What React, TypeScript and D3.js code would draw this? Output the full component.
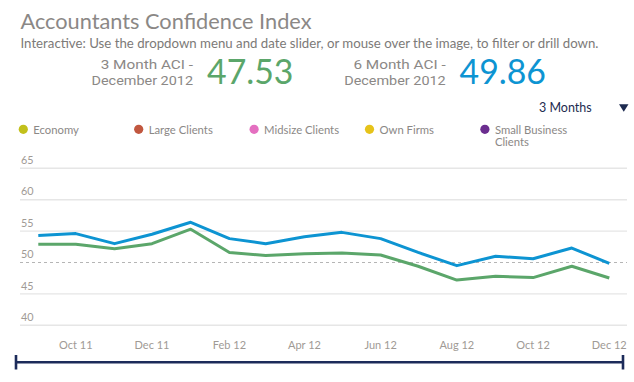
import React, { useEffect, useRef } from "react";
import * as d3 from "d3";

const months = [
  "2011-09", "2011-10", "2011-11", "2011-12", "2012-01", "2012-02", "2012-03", "2012-04",
  "2012-05", "2012-06", "2012-07", "2012-08", "2012-09", "2012-10", "2012-11", "2012-12",
];
const sixMonth = [54.3, 54.6, 53.0, 54.5, 56.4, 53.8, 53.0, 54.1, 54.8, 53.8, 51.6, 49.5, 51.0, 50.6, 52.3, 49.86];
const threeMonth = [52.9, 52.9, 52.2, 53.0, 55.3, 51.6, 51.1, 51.4, 51.5, 51.2, 49.4, 47.2, 47.8, 47.6, 49.4, 47.53];
const yTicks = [40, 45, 50, 55, 60, 65];
const xTickMonths = ["2011-10", "2011-12", "2012-02", "2012-04", "2012-06", "2012-08", "2012-10", "2012-12"];
const legendNames = ["Economy", "Large Clients", "Midsize Clients", "Own Firms", "Small Business|Clients"];
const legendColors = ["#c2c01b", "#c1573f", "#e46fc0", "#e6c31a", "#6b2d8f"];

const W = 634;
const H = 382;
const FONT = "Lato, 'Open Sans', sans-serif";

export default function App() {
  const ref = useRef<SVGSVGElement>(null);

  useEffect(() => {
    const svg = d3.select(ref.current);
    svg.selectAll("*").remove();
    const parse = d3.timeParse("%Y-%m");
    const dates = months.map((m) => parse(m) as Date);

    const x = d3.scaleTime().domain([dates[0], dates[dates.length - 1]]).range([38.3, 609.3]);
    const y = d3.scaleLinear().domain([40, 65]).range([325.3, 168.3]);

    // header
    svg.append("text").attr("x", 20.5).attr("y", 28.5).attr("font-family", FONT)
      .attr("font-size", 21).attr("fill", "#8b8886")
      .attr("textLength", 291).attr("lengthAdjust", "spacingAndGlyphs")
      .text("Accountants Confidence Index");
    svg.append("text").attr("x", 20.5).attr("y", 48.3).attr("font-family", FONT)
      .attr("font-size", 12.8).attr("fill", "#7c7a78")
      .attr("textLength", 578).attr("lengthAdjust", "spacingAndGlyphs")
      .text("Interactive: Use the dropdown menu and date slider, or mouse over the image, to filter or drill down.");

    const kpi = [
      { right: 193, num: "47.53", color: "#5ba66a", nx: 207 },
      { right: 445.7, num: "49.86", color: "#0d94d2", nx: 459.5 },
    ];
    kpi.forEach((k, i) => {
      const g = svg.append("g");
      g.append("text").attr("x", k.right - 92.3).attr("y", 68.8)
        .attr("font-family", "Roboto, sans-serif").attr("font-size", 13.6).attr("fill", "#8b8886")
        .attr("textLength", 92.3).attr("lengthAdjust", "spacingAndGlyphs")
        .text(`${i === 0 ? 3 : 6} Month ACI -`);
      g.append("text").attr("x", k.right - 101.5).attr("y", 84.8)
        .attr("font-family", "Roboto, sans-serif").attr("font-size", 13.6).attr("fill", "#8b8886")
        .attr("textLength", 101.5).attr("lengthAdjust", "spacingAndGlyphs")
        .text("December 2012");
      g.append("text").attr("x", k.nx).attr("y", 84).attr("font-family", FONT)
        .attr("font-size", 35).attr("fill", k.color)
        .attr("textLength", 86.5).attr("lengthAdjust", "spacingAndGlyphs").text(k.num);
    });

    // dropdown
    svg.append("text").attr("x", 539).attr("y", 111.7).attr("font-family", FONT)
      .attr("font-size", 12.5).attr("fill", "#1d2b50").text("3 Months");
    svg.append("path").attr("d", "M619,104.3L628.5,104.3L623.75,111.7Z").attr("fill", "#1d2b50");

    // legend
    legendNames.forEach((name, i) => {
      const cx = 23.3 + i * 115.4;
      svg.append("circle").attr("cx", cx).attr("cy", 129.3).attr("r", 4.6).attr("fill", legendColors[i]);
      const lines = name.split("|");
      lines.forEach((ln, j) => {
        svg.append("text").attr("x", cx + 10).attr("y", 133.5 + j * 12.3).attr("font-family", FONT)
          .attr("font-size", 11.3).attr("fill", "#8b8886").text(ln);
      });
    });

    // grid
    const grid = svg.append("g");
    yTicks.forEach((t) => {
      if (t !== 50) {
        grid.append("line").attr("x1", 20).attr("x2", 627).attr("y1", y(t)).attr("y2", y(t))
          .attr("stroke", "#e6e6e6").attr("stroke-width", 1.4);
      }
      grid.append("text").attr("x", 21).attr("y", y(t) - 4.3).attr("font-family", FONT)
        .attr("font-size", 10.8).attr("fill", "#a09a95").text(t);
    });
    grid.append("line").attr("x1", 20).attr("x2", 627).attr("y1", y(50)).attr("y2", y(50))
      .attr("stroke", "#b5b5b5").attr("stroke-width", 1.2).attr("stroke-dasharray", "3,3");

    // x axis labels
    const fmt = d3.timeFormat("%b %y");
    xTickMonths.forEach((m) => {
      const d = parse(m) as Date;
      svg.append("text").attr("x", x(d)).attr("y", 349).attr("text-anchor", "middle")
        .attr("font-family", FONT).attr("font-size", 11).attr("fill", "#a09a95").text(fmt(d));
    });

    // lines
    const line = d3.line<number>().x((_, i) => x(dates[i])).y((v) => y(v));
    svg.append("path").datum(threeMonth).attr("d", line).attr("fill", "none")
      .attr("stroke", "#5ba66a").attr("stroke-width", 3).attr("stroke-linejoin", "round");
    svg.append("path").datum(sixMonth).attr("d", line).attr("fill", "none")
      .attr("stroke", "#0d94d2").attr("stroke-width", 3).attr("stroke-linejoin", "round");

    // slider
    svg.append("line").attr("x1", 15).attr("x2", 624).attr("y1", 362.3).attr("y2", 362.3)
      .attr("stroke", "#1c2b5a").attr("stroke-width", 2.6);
    [16, 623].forEach((sx) => {
      svg.append("line").attr("x1", sx).attr("x2", sx).attr("y1", 355).attr("y2", 369.5)
        .attr("stroke", "#1c2b5a").attr("stroke-width", 2.6);
    });
  }, []);

  return (
    <svg ref={ref} width={W} height={H}
      style={{ position: "absolute", left: 0, top: 0, background: "#fff" }} />
  );
}
